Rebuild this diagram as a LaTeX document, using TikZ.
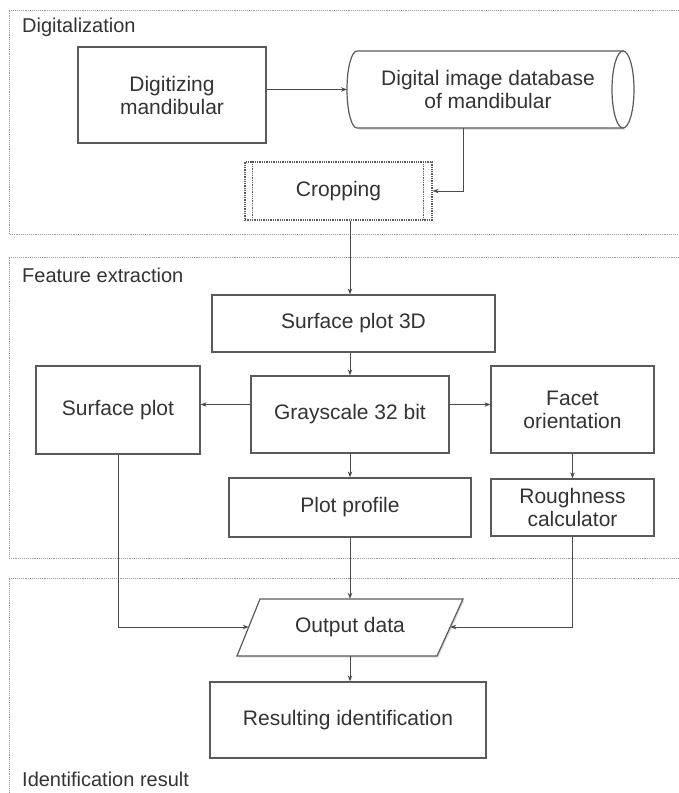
\documentclass[tikz,border=0pt]{standalone}
\usepackage{fontspec}
\setmainfont{Liberation Sans}
\usetikzlibrary{arrows.meta,shadows}
\definecolor{txt}{HTML}{333333}
\definecolor{edge}{HTML}{5A5A5A}
\definecolor{conn}{HTML}{4A4A4A}
\definecolor{frm}{HTML}{9A9A9A}
\tikzset{
  box/.style={draw=edge, line width=1.2pt, fill=white, inner sep=0pt, align=center,
    text=txt, font=\fontsize{21}{23}\selectfont,
    drop shadow={shadow xshift=1.2pt, shadow yshift=-1.2pt, opacity=0.2, fill=black}},
  plain/.style={inner sep=0pt, align=center, text=txt, font=\fontsize{21}{23}\selectfont},
  arr/.style={draw=conn, line width=0.9pt, -{Stealth[length=6pt,width=4.5pt]}},
  ln/.style={draw=conn, line width=0.9pt},
  frame/.style={draw=frm, line width=0.9pt, densely dotted},
  flabel/.style={anchor=base west, inner sep=0pt, text=txt, font=\fontsize{20}{22}\selectfont},
  cropbox/.style={draw=edge, line width=1.3pt, densely dotted, fill=white, inner sep=0pt,
    text=txt, font=\fontsize{21}{23}\selectfont},
}
\begin{document}
\begin{tikzpicture}[x=1pt,y=-1pt]
\useasboundingbox (0,0) rectangle (679,793);
% frames
\draw[frame] (679,10) -- (9,10) -- (9,234) -- (679,234);
\draw[frame] (679,257) -- (9,257) -- (9,558) -- (679,558);
\draw[frame] (679,578) -- (9,578) -- (9,793);
\node[flabel] (lab1) at (22,32) {Digitalization};
\node[flabel] (lab2) at (22,282) {Feature extraction};
\node[flabel] (lab3) at (22,786) {Identification result};

% Digitalization
\node[box, minimum width=188pt, minimum height=96pt] (dig) at (172,95) {Digitizing\\mandibular};
\fill[black, opacity=0.12] (358.5,52.5) -- (624.5,52.5) -- (624.5,129.5) -- (358.5,129.5) -- cycle;
\filldraw[draw=edge, line width=1.2pt, fill=white] (623,51) -- (357,51)
  arc[start angle=90, end angle=270, x radius=10pt, y radius=38.5pt] -- (623,128) -- cycle;
\draw[draw=edge, line width=1.2pt, fill=white] (623,89.5) ellipse [x radius=11pt, y radius=38.5pt];
\node[plain, minimum width=276pt, minimum height=77pt] (db) at (488,89.5) {Digital image database\\of mandibular};
\coordinate (dbL) at (347,89.5);
\coordinate (dbB) at (463,128);
\node[cropbox, minimum width=187pt, minimum height=58pt] (crop) at (338.5,191) {Cropping};
\draw[draw=edge, line width=1.3pt, densely dotted] ([xshift=8pt]crop.north west) -- ([xshift=8pt]crop.south west);
\draw[draw=edge, line width=1.3pt, densely dotted] ([xshift=-9pt]crop.north east) -- ([xshift=-9pt]crop.south east);

\draw[arr] (dig.east |- dbL) -- (dbL);
\draw[arr] (dbB) |- (crop.east);

% Feature extraction
\coordinate (ax) at (350,0);
\coordinate (mid) at (0,404.5);
\node[box, minimum width=283pt, minimum height=57pt] (sp3d) at (353.5,323.5) {Surface plot 3D};
\node[box, minimum width=198pt, minimum height=77pt] (gray) at (350,414.5) {Grayscale 32 bit};
\node[box, minimum width=164pt, minimum height=88pt] (sp) at (118,410) {Surface plot};
\node[box, minimum width=163pt, minimum height=87pt] (facet) at (572.5,409.5) {Facet\\orientation};
\node[box, minimum width=163pt, minimum height=57pt] (rough) at (572.5,507.5) {Roughness\\calculator};
\node[box, minimum width=242pt, minimum height=59pt] (pp) at (350,507.5) {Plot profile};

\draw[arr] (crop.south -| ax) -- (sp3d.north -| ax);
\draw[arr] (sp3d.south -| ax) -- (gray.north);
\draw[arr] (gray.west |- mid) -- (sp.east |- mid);
\draw[arr] (gray.east |- mid) -- (facet.west |- mid);
\draw[arr] (gray.south) -- (pp.north);
\draw[arr] (facet.south) -- (rough.north);

% Identification result
\fill[black, opacity=0.12] (261.5,600.5) -- (464.5,600.5) -- (438.5,657.5) -- (238.5,657.5) -- cycle;
\filldraw[draw=edge, line width=1.2pt, fill=white] (260,599) -- (463,599) -- (437,656) -- (237,656) -- cycle;
\node[plain, minimum width=180pt, minimum height=57pt] (out) at (350,627.5) {Output data};
\coordinate (outL) at (248.7,627);
\coordinate (outR) at (450.2,627);
\node[box, minimum width=276pt, minimum height=76pt] (res) at (348,720) {Resulting identification};

\draw[arr] (pp.south) -- (out.north);
\draw[arr] (sp.south) |- (outL);
\draw[arr] (rough.south) |- (outR);
\draw[arr] (out.south) -- (out.south |- res.north);
\end{tikzpicture}
\end{document}
